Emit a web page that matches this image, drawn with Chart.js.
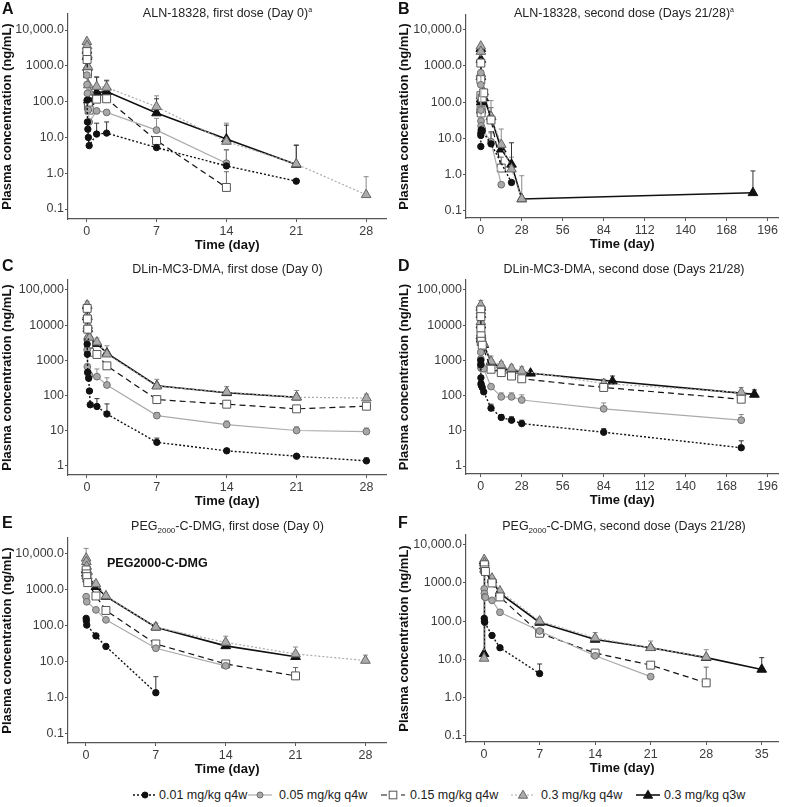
<!DOCTYPE html>
<html>
<head>
<meta charset="utf-8">
<script src="https://cdn.jsdelivr.net/npm/chart.js@4.4.1/dist/chart.umd.min.js"></script>
<style>
  body { margin: 0; background: #fff; font-family: "Liberation Sans", Arial, sans-serif; }
  #fig { position: relative; width: 785px; height: 807px; overflow: hidden; background: #fff; }
  #fig canvas { position: absolute; }
  .letter { position: absolute; font-weight: bold; font-size: 16px; line-height: 18px; color: #111; }
  .ttl { position: absolute; font-size: 12.5px; line-height: 14px; text-align: center; color: #222; white-space: nowrap; }
  .ttl sub { font-size: 8px; vertical-align: -3px; line-height: 0; }
  .ttl sup { font-size: 7px; vertical-align: 5px; line-height: 0; }
  .note { position: absolute; font-weight: bold; font-size: 12.5px; line-height: 16px; color: #111; }
  .leg { position: absolute; top: 787px; height: 16px; font-size: 12.5px; line-height: 16px; color: #222; white-space: nowrap; }
  .leg svg { position: absolute; top: 2px; }
</style>
</head>
<body>
<div id="fig">
  <canvas id="cA"></canvas><canvas id="cB"></canvas>
  <canvas id="cC"></canvas><canvas id="cD"></canvas>
  <canvas id="cE"></canvas><canvas id="cF"></canvas>

  <div class="letter" style="left:2px;top:0px">A</div>
  <div class="letter" style="left:398px;top:0px">B</div>
  <div class="letter" style="left:2px;top:257px">C</div>
  <div class="letter" style="left:398px;top:257px">D</div>
  <div class="letter" style="left:2px;top:514px">E</div>
  <div class="letter" style="left:398px;top:514px">F</div>

  <div class="ttl" style="left:68px;width:319px;top:6px">ALN-18328, first dose (Day 0)<sup>a</sup></div>
  <div class="ttl" style="left:466px;width:316px;top:6px">ALN-18328, second dose (Days 21/28)<sup>a</sup></div>
  <div class="ttl" style="left:68px;width:319px;top:262px">DLin-MC3-DMA, first dose (Day 0)</div>
  <div class="ttl" style="left:466px;width:316px;top:262px">DLin-MC3-DMA, second dose (Days 21/28)</div>
  <div class="ttl" style="left:68px;width:319px;top:519px">PEG<sub>2000</sub>-C-DMG, first dose (Day 0)</div>
  <div class="ttl" style="left:466px;width:316px;top:519px">PEG<sub>2000</sub>-C-DMG, second dose (Days 21/28)</div>

  <div class="note" style="left:107px;top:555px">PEG2000-C-DMG</div>

  <div id="legend"></div>
</div>

<script>
// ---- dose groups / tick labels ----
const groupLabels = ['0.01 mg/kg q4w', '0.05 mg/kg q4w', '0.15 mg/kg q4w', '0.3 mg/kg q4w', '0.3 mg/kg q3w'];

const yTicksLow = [0.1, 1, 10, 100, 1000, 10000];
const yLabelsLow = ['0.1', '1.0', '10.0', '100.0', '1000.0', '10,000.0'];
const yTicksHigh = [1, 10, 100, 1000, 10000, 100000];
const yLabelsHigh = ['1', '10', '100', '1000', '10000', '100,000'];
const xTicks28 = [0, 7, 14, 21, 28];
const xTicks196 = [0, 28, 56, 84, 112, 140, 168, 196];
const xTicks35 = [0, 7, 14, 21, 28, 35];

// ---- A: ALN-18328, first dose ----  (time in days, mean conc, upper SD end)
const aTime = [
  [0.04, 0.08, 0.12, 0.17, 0.25, 1, 2, 7, 14, 21],
  [0.02, 0.04, 0.08, 0.17, 0.25, 1, 2, 7, 14],
  [0.02, 0.04, 0.08, 0.17, 0.25, 1, 2, 7, 14],
  [0.02, 0.04, 0.08, 0.12, 0.17, 0.25, 1, 2, 7, 14, 21, 28],
  [0.02, 0.04, 0.08, 0.17, 0.25, 1, 2, 7, 14, 21]
];
const aConc = [
  [110, 27, 17, 10, 5.9, 12.4, 13.2, 5.2, 1.6, 0.6],
  [550, 300, 170, 59, 27, 55, 50, 16, 1.9],
  [2500, 1500, 600, 76, 58, 117, 120, 8.2, 0.4],
  [4700, 3600, 2000, 950, 290, 190, 263, 250, 72, 7.7, 1.8, 0.25],
  [2700, 1800, 900, 110, 100, 180, 190, 48, 9, 1.75]
];
const aSD = [
  [null, null, null, null, null, 25, 27, null, 4.5, null],
  [null, null, null, null, null, null, null, 34, 4.5],
  [null, null, null, null, null, null, null, null, 1.1],
  [null, null, null, null, null, null, 500, 400, 145, 25, 6.2, 0.8],
  [null, null, null, null, null, 480, 380, 120, 22, 6]
];

// ---- B: ALN-18328, second dose ----
const bTime = [
  [0.02, 0.04, 0.08, 0.25, 1, 7, 21],
  [0.02, 0.04, 0.08, 0.17, 0.25, 1, 7, 14],
  [0.02, 0.04, 0.08, 0.17, 0.25, 1, 2, 7, 14],
  [0.02, 0.04, 0.08, 0.17, 0.25, 1, 2, 7, 14, 21, 28],
  [0.02, 0.04, 0.08, 0.17, 0.25, 1, 2, 7, 14, 21, 28, 186]
];
const bConc = [
  [5.9, 12, 14, 17, 16, 7, 0.6],
  [650, 300, 60, 30, 22, 18, 8, 0.52],
  [1200, 420, 150, 60, 50, 130, 180, 32, 1.5],
  [3500, 2500, 600, 150, 60, 170, 190, 40, 6.7, 1.4, 0.21],
  [3000, 1500, 500, 120, 100, 150, 130, 39, 5.0, 1.9, 0.21, 0.31]
];
const bSD = [
  [null, null, null, null, null, 15, null],
  [null, null, null, null, null, null, 14, null],
  [null, null, null, null, null, null, null, 70, 3],
  [null, null, null, null, null, null, null, 110, 18, 3.0, 0.92],
  [null, null, null, null, null, null, null, null, null, 7.5, null, 1.25]
];

// ---- C: DLin-MC3-DMA, first dose ----
const cTime = [
  [0.02, 0.04, 0.08, 0.17, 0.25, 0.33, 1, 2, 7, 14, 21, 28],
  [0.02, 0.04, 0.08, 0.17, 0.25, 1, 2, 7, 14, 21, 28],
  [0.02, 0.04, 0.08, 0.17, 0.25, 1, 2, 7, 14, 21, 28],
  [0.02, 0.04, 0.08, 0.17, 0.25, 1, 2, 7, 14, 21, 28],
  [0.02, 0.04, 0.08, 0.17, 0.25, 1, 2, 7, 14, 21]
];
const cConc = [
  [2900, 1500, 460, 310, 135, 55, 49, 30, 4.7, 2.7, 1.9, 1.4],
  [2000, 660, 450, 400, 380, 345, 200, 27, 15, 10.2, 9.5],
  [30000, 15000, 7700, 2900, 1700, 1470, 700, 77, 57, 42, 50],
  [37000, 19000, 9700, 5000, 4400, 3300, 1500, 185, 125, 90, 85],
  [35000, 17000, 8000, 4500, 4000, 3000, 1600, 190, 120, 90]
];
const cSD = [
  [null, null, null, null, null, null, 82, 58, 6.2, 3.0, 2.1, 1.7],
  [null, null, null, null, null, 570, 320, 33, 19, 13, 12],
  [],
  [48000, null, null, null, null, 4300, 2600, 290, 180, 140, 110],
  []
];

// ---- D: DLin-MC3-DMA, second dose ----
const dTime = [
  [0.02, 0.04, 0.08, 0.17, 0.25, 1, 2, 7, 14, 21, 28, 84, 178],
  [0.02, 0.04, 0.08, 0.17, 0.25, 1, 2, 7, 14, 21, 28, 84, 178],
  [0.02, 0.04, 0.08, 0.17, 0.25, 1, 7, 14, 21, 28, 84, 178],
  [0.02, 0.04, 0.08, 0.17, 0.25, 1, 2, 7, 14, 21, 28, 84, 178],
  [0.02, 0.04, 0.08, 0.17, 0.25, 1, 2, 7, 14, 21, 34, 90, 187]
];
const dConc = [
  [1000, 750, 320, 220, 200, 170, 128, 44, 24, 20, 16, 9.1, 3.3],
  [1700, 1100, 800, 650, 600, 600, 580, 180, 92, 92, 75, 42, 20],
  [27000, 17500, 8000, 5000, 3500, 2700, 560, 450, 360, 300, 170, 79],
  [37000, 25000, 12500, 5900, 4500, 3500, 3000, 940, 740, 590, 500, 220, 122],
  [32000, 20000, 10000, 5000, 4000, 3200, 2800, 900, 600, 520, 430, 255, 108]
];
const dSD = [
  [null, null, null, null, null, null, null, 57, 29, 25, 20, 11.5, 5.2],
  [null, null, null, null, null, null, null, null, 120, 120, 105, 62, 29],
  [],
  [50000, null, null, null, null, null, null, 1330, 920, 740, 660, 290, 170],
  [null, null, null, null, null, null, null, null, null, null, null, 360, 145]
];

// ---- E: PEG2000-C-DMG, first dose ----
const eTime = [
  [0.02, 0.04, 0.08, 1, 2, 7],
  [0.02, 0.08, 1, 2, 7, 14],
  [0.02, 0.04, 0.08, 0.17, 1, 2, 7, 14, 21],
  [0.02, 0.04, 0.08, 0.17, 1, 2, 7, 14, 21, 28],
  [0.02, 0.04, 0.08, 0.17, 1, 2, 7, 14, 21]
];
const eConc = [
  [163, 140, 106, 53, 27, 1.4],
  [650, 470, 280, 148, 24, 7.8],
  [3600, 2800, 2350, 1600, 680, 270, 31.6, 8.8, 4.1],
  [7600, 6100, 4500, 3250, 1470, 680, 92, 35, 16.6, 11],
  [3600, 2900, 2500, 2000, 1230, 660, 92, 28, 14]
];
const eSD = [
  [null, null, null, null, null, 3.9],
  [],
  [null, null, null, null, null, null, null, null, 7],
  [14300, null, null, null, null, null, 120, 52, 26, 15.5],
  []
];

// ---- F: PEG2000-C-DMG, second dose ----
const fTime = [
  [0.02, 0.04, 0.08, 1, 2, 7],
  [0.02, 0.04, 0.08, 0.17, 1, 2, 7, 14, 21],
  [0.02, 0.04, 0.08, 0.17, 1, 2, 7, 14, 21, 28],
  [0, 0.02, 0.04, 0.08, 1, 2, 7, 14, 21, 28],
  [0, 0.02, 0.04, 0.08, 1, 2, 7, 14, 21, 28, 35]
];
const fConc = [
  [118, 100, 93, 42, 20, 4.2],
  [700, 530, 430, 420, 350, 170, 55, 12.3, 3.5],
  [2900, 3000, 2200, 2000, 1000, 430, 48, 14.5, 7.0, 2.4],
  [10.5, 4100, 3350, 2250, 1330, 610, 100, 36, 20, 11.3],
  [13.9, 3700, 2750, 2300, 1200, 530, 92, 33, 20, 11, 5.4]
];
const fSD = [
  [null, null, null, null, null, 7.5],
  [],
  [null, null, null, null, null, null, null, null, null, 6.2],
  [null, null, null, null, null, null, 120, 50, 30, 17.8],
  [null, null, null, null, null, null, null, null, null, null, 11]
];

// ---- styling per dose group ----
const groupStyle = [
  { shape: 'circle',   r: 3.2, fill: '#111',    edge: '#111',    line: '#111',    dash: [2, 2], w: 1.4, err: '#333' },
  { shape: 'circle',   r: 3.4, fill: '#a8a8a8', edge: '#6e6e6e', line: '#ababab', dash: [],     w: 1.2, err: '#8a8a8a' },
  { shape: 'rect',     r: 5.6, fill: '#fff',    edge: '#555',    line: '#111',    dash: [6, 4], w: 1.2, err: '#666' },
  { shape: 'triangle', r: 5.6, fill: '#ababab', edge: '#666',    line: '#ababab', dash: [2, 2], w: 1.2, err: '#8a8a8a' },
  { shape: 'triangle', r: 5.6, fill: '#111',    edge: '#111',    line: '#111',    dash: [],     w: 1.6, err: '#333' }
];

// upper error bars, drawn beneath lines and markers
const errorBars = {
  id: 'errorBars',
  beforeDatasetsDraw(chart) {
    const { ctx, scales: { x, y } } = chart;
    chart.data.datasets.forEach((ds) => {
      ctx.save();
      ctx.strokeStyle = ds.errColor;
      ctx.lineWidth = 1;
      (ds.sd || []).forEach((top, j) => {
        if (top == null) return;
        const px = x.getPixelForValue(ds.data[j].x);
        const py = y.getPixelForValue(ds.data[j].y);
        const pt = y.getPixelForValue(top);
        ctx.beginPath();
        ctx.moveTo(px, py);
        ctx.lineTo(px, pt);
        ctx.moveTo(px - 2.5, pt);
        ctx.lineTo(px + 2.5, pt);
        ctx.stroke();
      });
      ctx.restore();
    });
  }
};

Chart.defaults.font.family = '"Liberation Sans", Arial, sans-serif';

const axisColor = '#555';
const tickColor = '#3c3c3c';

function makePanel(id, box, area, xRange, xTicks, yRange, yTicks, yLabels, times, concs, sds) {
  const canvas = document.getElementById(id);
  canvas.width = box[2];
  canvas.height = box[3];
  canvas.style.left = box[0] + 'px';
  canvas.style.top = box[1] + 'px';

  const datasets = groupLabels.map((label, g) => {
    const st = groupStyle[g];
    return {
      label,
      data: times[g].map((t, i) => ({ x: t, y: concs[g][i] })),
      sd: sds[g],
      errColor: st.err,
      borderColor: st.line,
      borderWidth: st.w,
      borderDash: st.dash,
      pointStyle: st.shape,
      pointRadius: st.r,
      pointBackgroundColor: st.fill,
      pointBorderColor: st.edge,
      pointBorderWidth: 1,
      tension: 0,
      fill: false
    };
  });

  new Chart(canvas, {
    type: 'line',
    data: { datasets },
    options: {
      responsive: false,
      animation: false,
      devicePixelRatio: 1,
      layout: { padding: { top: area[1] - box[1], right: box[0] + box[2] - area[2], left: 0, bottom: 0 } },
      plugins: { legend: { display: false }, tooltip: { enabled: false } },
      scales: {
        x: {
          type: 'linear',
          min: xRange[0],
          max: xRange[1],
          afterBuildTicks: (s) => { s.ticks = xTicks.map((v) => ({ value: v })); },
          afterFit: (s) => { s.height = box[1] + box[3] - area[3]; },
          ticks: { autoSkip: false, maxRotation: 0, padding: 2, color: tickColor, font: { size: 12.5 }, callback: (v) => String(v) },
          grid: { drawOnChartArea: false, drawTicks: true, tickLength: 3, color: axisColor },
          border: { display: true, color: axisColor, width: 1.2 },
          title: { display: true, text: 'Time (day)', color: '#111', font: { size: 13, weight: 'bold' }, padding: { top: 0, bottom: 6 } }
        },
        y: {
          type: 'logarithmic',
          min: yRange[0],
          max: yRange[1],
          afterBuildTicks: (s) => { s.ticks = yTicks.map((v) => ({ value: v })); },
          afterFit: (s) => { s.width = area[0] - box[0]; },
          ticks: { autoSkip: false, padding: 1, color: tickColor, font: { size: 12.5 }, callback: (v, i) => yLabels[i] },
          grid: { drawOnChartArea: false, drawTicks: true, tickLength: 3, color: axisColor },
          border: { display: true, color: axisColor, width: 1.2 },
          title: { display: true, text: 'Plasma concentration (ng/mL)', color: '#111', font: { size: 13, weight: 'bold' }, padding: { top: 0, bottom: 0 } }
        }
      }
    },
    plugins: [errorBars]
  });
}

makePanel('cA', [0, 0, 393, 259],   [68, 14, 387, 219],   [-1.87, 30.03], xTicks28,  [0.0526, 28000],  yTicksLow,  yLabelsLow,  aTime, aConc, aSD);
makePanel('cB', [397, 0, 388, 258], [466, 15, 782, 218],  [-10.1, 203.4], xTicks196, [0.0624, 25600],  yTicksLow,  yLabelsLow,  bTime, bConc, bSD);
makePanel('cC', [0, 262, 393, 253], [68, 280, 387, 475],  [-1.9, 30],     xTicks28,  [0.555, 192000],  yTicksHigh, yLabelsHigh, cTime, cConc, cSD);
makePanel('cD', [397, 262, 388, 252], [466, 280, 782, 474], [-10.1, 203.4], xTicks196, [0.593, 192000], yTicksHigh, yLabelsHigh, dTime, dConc, dSD);
makePanel('cE', [0, 525, 393, 258], [68, 538, 387, 743],  [-1.8, 30.1],   xTicks28,  [0.056, 27800],   yTicksLow,  yLabelsLow,  eTime, eConc, eSD);
makePanel('cF', [397, 525, 388, 257], [466, 535, 782, 742], [-2.28, 37.1], xTicks35,  [0.0675, 18100],  yTicksLow,  yLabelsLow,  fTime, fConc, fSD);

// ---- shared legend along the bottom ----
const legendSymbolLeft = [133, 248, 381, 511, 636];
const legendTextLeft = [159, 279, 410, 541, 664];
function legendSymbol(st) {
  const cx = 12, cy = 6;
  const dash = st.dash.length ? ` stroke-dasharray="${st.dash.join(',')}"` : '';
  let mark;
  if (st.shape === 'circle') mark = `<circle cx="${cx}" cy="${cy}" r="3" fill="${st.fill}" stroke="${st.edge}"/>`;
  else if (st.shape === 'rect') mark = `<rect x="${cx - 3.8}" y="${cy - 3.8}" width="7.6" height="7.6" fill="${st.fill}" stroke="${st.edge}"/>`;
  else mark = `<polygon points="${cx},${cy - 4.8} ${cx + 4.6},${cy + 3.2} ${cx - 4.6},${cy + 3.2}" fill="${st.fill}" stroke="${st.edge}"/>`;
  return `<svg width="24" height="12" viewBox="0 0 24 12"><line x1="0" y1="${cy}" x2="24" y2="${cy}" stroke="${st.line}" stroke-width="${st.w}"${dash}/>${mark}</svg>`;
}
const legend = document.getElementById('legend');
groupLabels.forEach((label, g) => {
  const sym = document.createElement('div');
  sym.className = 'leg';
  sym.style.left = legendSymbolLeft[g] + 'px';
  sym.style.width = '24px';
  sym.innerHTML = legendSymbol(groupStyle[g]);
  legend.appendChild(sym);
  const txt = document.createElement('div');
  txt.className = 'leg';
  txt.style.left = legendTextLeft[g] + 'px';
  txt.textContent = label;
  legend.appendChild(txt);
});
</script>
</body>
</html>
